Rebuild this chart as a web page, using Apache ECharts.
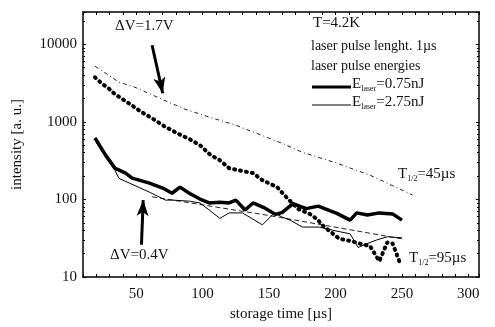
<!DOCTYPE html>
<html>
<head>
<meta charset="utf-8">
<script src="https://cdn.jsdelivr.net/npm/echarts@6/dist/echarts.min.js"></script>
<style>
  html, body { margin: 0; background: #fff; }
  #chart { width: 495px; height: 327px; }
</style>
</head>
<body>
<div id="chart"></div>
<script>
// delta V = 1.7 V (heavy dots)
const timeHigh = [19, 24, 30, 34, 39, 47, 53, 62, 71, 81, 90, 98, 106, 113, 120, 127, 138, 145, 156, 163, 172, 180, 186, 191, 203, 212, 218, 226, 233, 239, 243, 248];
const valHigh = [3750, 3140, 2630, 2270, 2000, 1620, 1370, 1110, 880, 710, 600, 500, 372, 320, 252, 238, 218, 177, 144, 107, 75, 66, 56, 45, 31, 29, 27, 25, 16, 28, 27, 16];

// E_laser = 0.75 nJ (thick line)
const timeLow = [19, 27, 34, 42, 47, 60, 70, 77, 83, 90, 98, 105, 113, 120, 125, 132, 138, 147, 155, 160, 168, 178, 187, 201, 211, 216, 224, 233, 243, 250];
const valLow = [620, 372, 253, 218, 188, 162, 140, 120, 144, 120, 101, 90, 92, 90, 98, 73, 90, 77, 64, 68, 88, 76, 82, 66, 54, 67, 63, 67, 65, 54];

// E_laser = 2.75 nJ (thin line)
const timeHi2 = [20, 27, 34, 37, 45, 60, 72, 77, 90, 98, 105, 113, 120, 130, 145, 154, 160, 166, 175, 188, 198, 211, 217, 224, 231, 239, 250];
const valHi2 = [540, 350, 238, 187, 162, 124, 98, 98, 95, 90, 73, 57, 67, 67, 47, 67, 59, 54, 44, 44, 40, 36, 24, 27, 30, 33, 32];

// fits
const timeFit45 = [19, 26, 37, 49, 71, 87, 105, 125, 150, 160, 175, 201, 226, 258];
const valFit45 = [5200, 4350, 3240, 2790, 1900, 1450, 1150, 904, 615, 527, 405, 293, 205, 114];
const timeFit95 = [62, 150, 250];
const valFit95 = [108, 62, 31];

const xTicks = [50, 100, 150, 200, 250, 300];
const yTicks = [10, 100, 1000, 10000];

const serif = '"Liberation Serif", "DejaVu Serif", serif';
const zip = (t, v) => t.map((x, i) => [x, v[i]]);

const chart = echarts.init(document.getElementById('chart'));

const frameAxis = { lineStyle: { color: '#000', width: 1.5 } };
const tickIn = { inside: true, length: 3, lineStyle: { color: '#000' } };
const txt = (s, size) => ({ text: s, font: size + 'px ' + serif, fill: '#111' });
const subRich = {
  a: { font: '15px ' + serif, fill: '#111' },
  s: { font: '8px ' + serif, fill: '#111', padding: [8, 0, 0, 0] }
};

chart.setOption({
  backgroundColor: '#fff',
  animation: false,
  grid: { left: 83, right: 16, top: 12, bottom: 50, show: false },
  xAxis: [{
    type: 'value', min: 10, max: 308, interval: 10,
    axisLine: frameAxis, axisTick: tickIn, splitLine: { show: false },
    axisLabel: {
      color: '#111', fontFamily: serif, fontSize: 15, margin: 10,
      formatter: v => xTicks.includes(v) ? String(v) : ''
    },
    name: 'storage time [µs]', nameLocation: 'middle', nameGap: 28,
    nameTextStyle: { color: '#111', fontFamily: serif, fontSize: 15 }
  }, {
    type: 'value', position: 'top', min: 10, max: 308, interval: 10,
    axisLine: frameAxis, axisTick: tickIn, axisLabel: { show: false }, splitLine: { show: false }
  }],
  yAxis: [{
    type: 'log', logBase: 10, min: 10, max: 26000,
    axisLine: { show: true, lineStyle: { color: '#000', width: 1.5 } },
    axisTick: tickIn, splitLine: { show: false },
    minorTick: { show: true, splitNumber: 9, length: 2, lineStyle: { color: '#000' } },
    axisLabel: {
      color: '#111', fontFamily: serif, fontSize: 15, margin: 6,
      formatter: v => yTicks.some(t => Math.abs(t - v) < 1e-6 * t) ? String(Math.round(v)) : ''
    },
    name: 'intensity [a. u.]', nameLocation: 'middle', nameGap: 58, nameRotate: 90,
    nameTextStyle: { color: '#111', fontFamily: serif, fontSize: 15 }
  }, {
    type: 'log', logBase: 10, min: 10, max: 26000, position: 'right',
    axisLine: { show: true, lineStyle: { color: '#000', width: 1.5 } },
    axisTick: tickIn, axisLabel: { show: false }, splitLine: { show: false },
    minorTick: { show: true, splitNumber: 9, length: 2, lineStyle: { color: '#000' } }
  }],
  graphic: [
    { type: 'text', left: 115, top: 19, style: txt('ΔV=1.7V', 15) },
    { type: 'text', left: 110, top: 248, style: txt('ΔV=0.4V', 15) },
    { type: 'text', left: 313, top: 16, style: txt('T=4.2K', 15) },
    { type: 'text', left: 311, top: 39, style: txt('laser pulse lenght. 1µs', 14) },
    { type: 'text', left: 311, top: 59, style: txt('laser pulse energies', 14) },
    // legend keys
    { type: 'line', shape: { x1: 312, y1: 87, x2: 351, y2: 87 }, style: { stroke: '#000', lineWidth: 3 } },
    { type: 'line', shape: { x1: 312, y1: 105, x2: 351, y2: 105 }, style: { stroke: '#000', lineWidth: 1 } },
    { type: 'text', left: 352, top: 77, style: { text: '{a|E}{s|laser}{a|=0.75nJ}', rich: subRich } },
    { type: 'text', left: 352, top: 95, style: { text: '{a|E}{s|laser}{a|=2.75nJ}', rich: subRich } },
    { type: 'text', left: 398, top: 167, style: { text: '{a|T}{s|1/2}{a|=45µs}', rich: subRich } },
    { type: 'text', left: 409, top: 251, style: { text: '{a|T}{s|1/2}{a|=95µs}', rich: subRich } }
  ],
  series: [
    {
      name: 'fit45', type: 'line', data: zip(timeFit45, valFit45), symbol: 'none', silent: true,
      lineStyle: { color: '#222', width: 1, type: [4, 3, 1, 3] }
    },
    {
      name: 'fit95', type: 'line', data: zip(timeFit95, valFit95), symbol: 'none', silent: true,
      lineStyle: { color: '#222', width: 1, type: [5, 3] },
      markLine: {
        silent: true, symbol: ['none', 'arrow'], symbolSize: [9, 16],
        label: { show: false },
        lineStyle: { color: '#000', width: 3, type: 'solid' },
        data: [
          [{ coord: [62, 9700] }, { coord: [70, 2330] }],
          [{ coord: [54, 26] }, { coord: [55.3, 98] }]
        ]
      }
    },
    {
      name: 'dV17', type: 'line', data: zip(timeHigh, valHigh), symbol: 'none',
      lineStyle: { color: '#000', width: 4, type: [1, 5], cap: 'round' }
    },
    {
      name: 'E275', type: 'line', data: zip(timeHi2, valHi2), symbol: 'none',
      lineStyle: { color: '#000', width: 1 }
    },
    {
      name: 'E075', type: 'line', data: zip(timeLow, valLow), symbol: 'none',
      lineStyle: { color: '#000', width: 3.5 }
    }
  ]
});
</script>
</body>
</html>
